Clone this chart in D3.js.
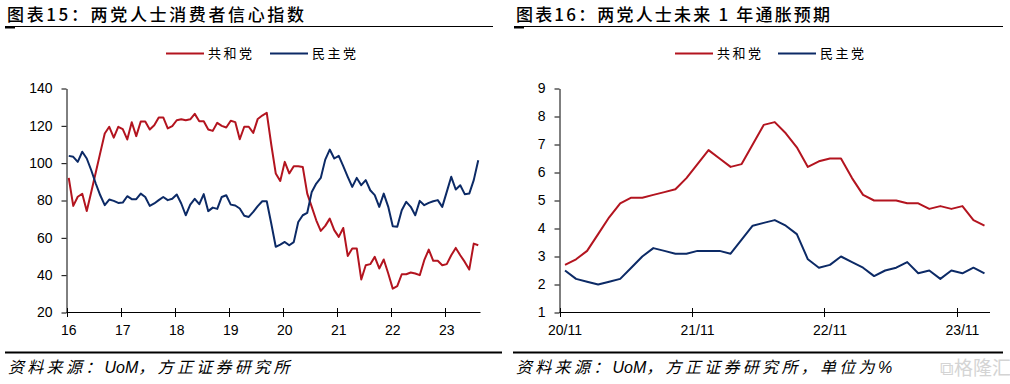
<!DOCTYPE html>
<html>
<head>
<meta charset="utf-8">
<script src="https://cdn.jsdelivr.net/npm/d3@7"></script>
<style>
  body { margin: 0; background: #fff; }
  svg { display: block; }
</style>
</head>
<body>
<div id="chart"></div>
<script>
// ---- data ----
// 图表15: monthly, 2016-01 .. 2023-08
var sentMonths = d3.timeMonth.range(new Date(2016, 0, 1), new Date(2023, 8, 1));
var sentRep = [92.1, 77.1, 82.0, 83.6, 74.4, 84.5, 95.0, 105.5, 115.9, 119.5, 113.7, 119.5,
  118.2, 112.7, 121.9, 114.5, 122.3, 122.3, 118.0, 120.3, 124.5, 124.5, 118.6, 119.8,
  123.0, 123.5, 123.0, 123.5, 126.4, 122.5, 122.5, 118.0, 117.3, 121.6, 120.0, 119.1,
  122.7, 122.0, 112.8, 119.5, 119.5, 116.2, 123.7, 125.5, 127.0, 110.0, 94.5, 90.5,
  100.7, 94.5, 98.4, 98.4, 98.0, 83.7, 76.6, 69.4, 63.7, 66.4, 70.3, 64.1,
  60.5, 65.3, 50.3, 54.3, 54.3, 37.7, 45.3, 45.9, 49.8, 43.6, 48.4, 40.9,
  32.8, 34.1, 40.5, 40.5, 41.4, 40.9, 40.0, 48.0, 53.7, 47.7, 47.7, 45.3,
  45.9, 50.7, 54.6, 50.7, 47.1, 43.0, 56.9, 56.0];
var sentDem = [103.9, 103.4, 100.7, 106.1, 102.5, 96.2, 89.1, 82.8, 77.5, 80.5, 79.8, 78.7,
  78.9, 82.3, 80.7, 80.7, 83.7, 81.9, 77.1, 78.4, 80.2, 81.9, 80.2, 80.9,
  83.2, 78.4, 72.1, 77.8, 80.9, 78.0, 83.4, 74.3, 76.2, 75.5, 81.9, 82.8,
  77.8, 77.3, 75.7, 71.8, 71.2, 73.9, 77.0, 79.6, 79.6, 67.7, 55.2, 56.4,
  57.8, 56.0, 57.7, 68.5, 72.1, 73.4, 84.6, 89.1, 92.1, 101.9, 107.3, 102.5,
  103.9, 98.4, 92.7, 87.3, 92.1, 88.2, 90.9, 85.5, 82.9, 76.6, 83.7, 76.6,
  66.2, 65.9, 74.8, 79.3, 76.6, 72.1, 79.8, 77.5, 78.7, 79.6, 80.2, 76.6,
  84.6, 92.7, 85.9, 88.2, 83.4, 83.7, 90.9, 101.6];
var sentYTicks = [20, 40, 60, 80, 100, 120, 140];

// 图表16: monthly, 2020-11 .. 2024-01
var inflMonths = d3.timeMonth.range(new Date(2020, 10, 1), new Date(2024, 1, 1));
var inflRep = [2.7, 2.9, 3.2, 3.8, 4.4, 4.9, 5.1, 5.1, 5.2, 5.3, 5.4, 5.8,
  6.3, 6.8, 6.5, 6.2, 6.3, 7.0, 7.7, 7.8, 7.4, 6.9, 6.2, 6.4,
  6.5, 6.5, 5.8, 5.2, 5.0, 5.0, 5.0, 4.9, 4.9, 4.7, 4.8, 4.7,
  4.8, 4.3, 4.1];
var inflDem = [2.5, 2.2, 2.1, 2.0, 2.1, 2.2, 2.6, 3.0, 3.3, 3.2, 3.1, 3.1,
  3.2, 3.2, 3.2, 3.1, 3.6, 4.1, 4.2, 4.3, 4.1, 3.8, 2.9, 2.6,
  2.7, 3.0, 2.8, 2.6, 2.3, 2.5, 2.6, 2.8, 2.4, 2.5, 2.2, 2.5,
  2.4, 2.6, 2.4];
var inflYTicks = [1, 2, 3, 4, 5, 6, 7, 8, 9];

var seriesNames = ["共和党", "民主党"];
var colors = ["#b3141f", "#0c2a66"];

var W = 1010, H = 384;
var svg = d3.select("#chart").append("svg")
  .attr("width", W).attr("height", H);

var cjk = "'Noto Sans CJK SC', sans-serif";
var latin = "'Liberation Sans', Arial, 'Noto Sans CJK SC', sans-serif";

function header(x0, x1, title, titleLen) {
  svg.append("text")
    .attr("x", x0 + 2).attr("y", 20.5)
    .attr("font-family", cjk).attr("font-size", 17).attr("font-weight", 500)
    .attr("textLength", titleLen).attr("lengthAdjust", "spacing")
    .text(title);
  svg.append("line")
    .attr("x1", x0).attr("x2", x1).attr("y1", 26.5).attr("y2", 26.5)
    .attr("stroke", "#000").attr("stroke-width", 1);
  svg.append("line")
    .attr("x1", x0).attr("x2", x0 + 10).attr("y1", 27.5).attr("y2", 27.5)
    .attr("stroke", "#000").attr("stroke-width", 2);
}

// footer parts: CJK runs get letter spacing, latin runs stay tight
function footer(x0, x1, parts) {
  svg.append("line")
    .attr("x1", x0).attr("x2", x1).attr("y1", 352.5).attr("y2", 352.5)
    .attr("stroke", "#000").attr("stroke-width", 2);
  var t = svg.append("text")
    .attr("x", x0 + 3).attr("y", 373)
    .attr("font-family", latin).attr("font-size", 16).attr("font-style", "italic");
  parts.forEach(function (p) {
    t.append("tspan")
      .attr("letter-spacing", p.latin ? 0 : 3.3)
      .text(p.text);
  });
}

function legend(items) {
  items.forEach(function (it, i) {
    svg.append("line")
      .attr("x1", it.x).attr("x2", it.x + 38).attr("y1", 53.5).attr("y2", 53.5)
      .attr("stroke", colors[i]).attr("stroke-width", 2);
    svg.append("text")
      .attr("x", it.x + 42).attr("y", 58)
      .attr("font-family", cjk).attr("font-size", 13)
      .attr("textLength", 44).attr("lengthAdjust", "spacing")
      .text(seriesNames[i]);
  });
}

function panel(opt) {
  var x = d3.scaleBand().domain(opt.months).range(opt.xRange).padding(0);
  var y = d3.scaleLinear().domain(opt.yDomain).range([312.5, 88.5]);
  var bw = x.bandwidth();
  var g = svg.append("g");

  // y axis
  var yAxis = d3.axisLeft(y).tickValues(opt.yTicks).tickSize(5).tickPadding(9).tickSizeOuter(0);
  var ya = g.append("g").attr("transform", "translate(" + opt.xRange[0] + ",0)").call(yAxis);
  ya.selectAll("text").attr("font-family", latin).attr("font-size", 14).attr("fill", "#000");
  ya.selectAll("line,path").attr("stroke", "#000");

  // x axis: ticks at band boundaries, labels at band centres
  var xa = g.append("g");
  xa.append("line")
    .attr("x1", opt.xRange[0]).attr("x2", opt.xRange[1])
    .attr("y1", 312.5).attr("y2", 312.5).attr("stroke", "#000");
  var tickMonths = opt.months.filter(function (d) { return d.getMonth() === opt.tickMonth; });
  xa.selectAll(".tk").data(tickMonths).enter().append("line")
    .attr("x1", function (d) { return Math.round(x(d)) + 0.5; })
    .attr("x2", function (d) { return Math.round(x(d)) + 0.5; })
    .attr("y1", 308).attr("y2", 317).attr("stroke", "#000");
  xa.selectAll(".lb").data(tickMonths).enter().append("text")
    .attr("x", function (d) { return x(d) + bw / 2; })
    .attr("y", 335)
    .attr("text-anchor", "middle")
    .attr("font-family", latin).attr("font-size", 14)
    .text(opt.tickFormat);

  var line = d3.line()
    .x(function (d, i) { return x(opt.months[i]) + bw / 2; })
    .y(function (d) { return y(d); });

  opt.series.forEach(function (s, i) {
    g.append("path").datum(s)
      .attr("fill", "none").attr("stroke", colors[i]).attr("stroke-width", 2)
      .attr("stroke-linejoin", "round")
      .attr("d", line);
  });
}

header(5, 493, "图表15：两党人士消费者信心指数", 297);
header(514, 1003, "图表16：两党人士未来 1 年通胀预期", 314);

legend([{ x: 166 }, { x: 270 }]);
legend([{ x: 675 }, { x: 778 }]);

panel({
  months: sentMonths, series: [sentRep, sentDem],
  xRange: [66.5, 480.5], yDomain: [20, 140], yTicks: sentYTicks,
  tickMonth: 0, tickFormat: d3.timeFormat("%y")
});
panel({
  months: inflMonths, series: [inflRep, inflDem],
  xRange: [559.5, 990], yDomain: [1, 9], yTicks: inflYTicks,
  tickMonth: 10, tickFormat: d3.timeFormat("%y/%m")
});

footer(5, 502, [
  { text: "资料来源：" }, { text: "UoM", latin: true }, { text: "，方正证券研究所" }
]);
footer(513, 1003, [
  { text: "资料来源：" }, { text: "UoM", latin: true }, { text: "，方正证券研究所，单位为" },
  { text: "%", latin: true }
]);

// watermark
svg.append("text")
  .attr("x", 940).attr("y", 375)
  .attr("font-family", cjk).attr("font-size", 19).attr("fill", "#d4d4d4")
  .text("⧉格隆汇");
</script>
</body>
</html>
